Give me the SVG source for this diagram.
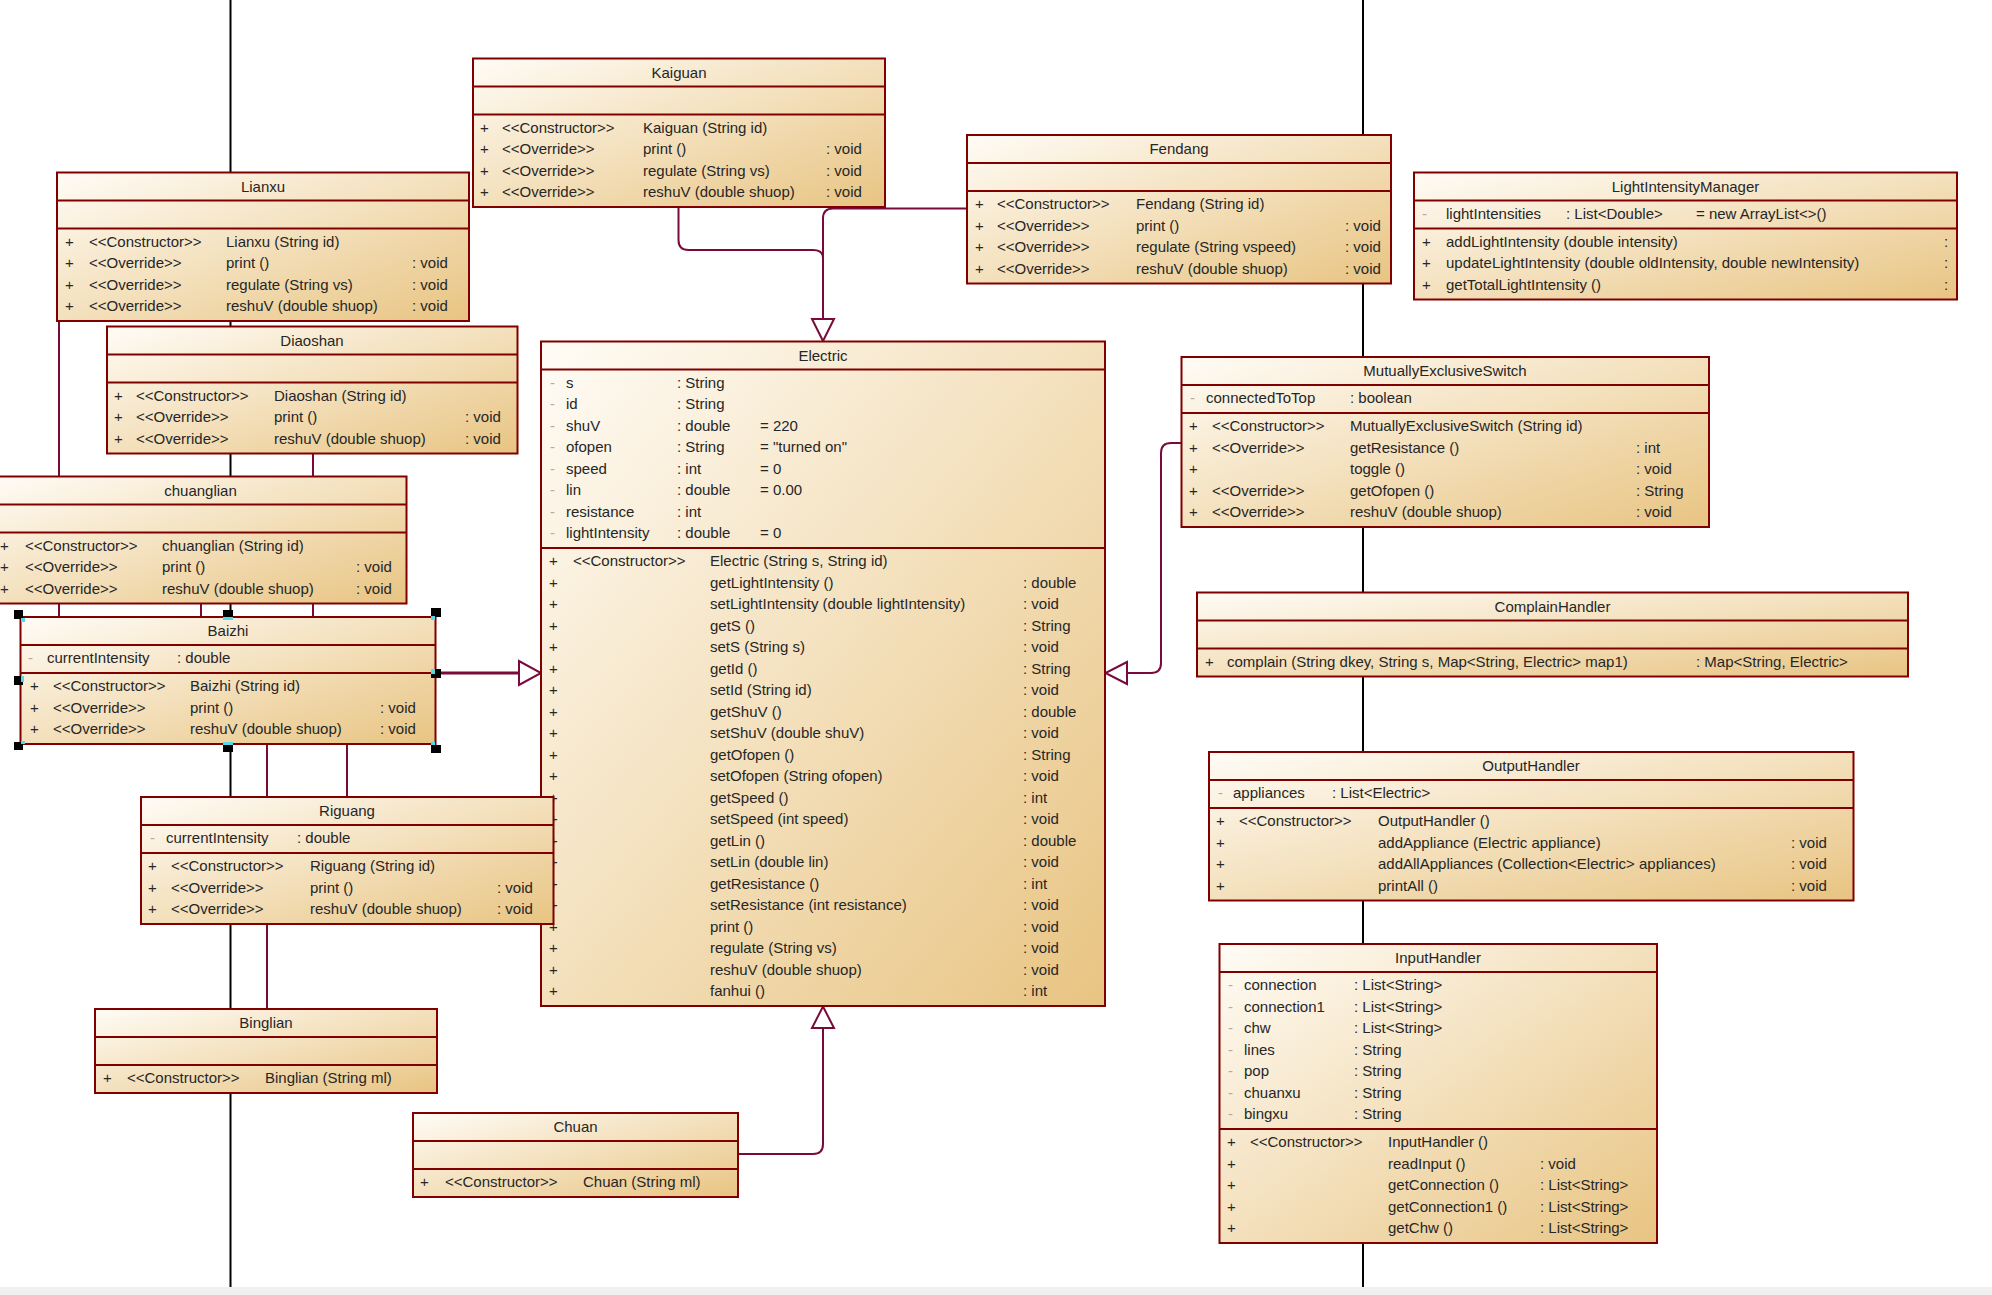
<svg xmlns="http://www.w3.org/2000/svg" width="1992" height="1295" viewBox="0 0 1992 1295">
<style>
text{font-family:"Liberation Sans",Arial,sans-serif;font-size:15px;fill:#262626}
.t{text-anchor:middle}
.m{fill:#bba6a6}
.box{fill:url(#g);stroke:#800000;stroke-width:2}
.sep{stroke:#800000;stroke-width:2}
.ll{stroke:#000;stroke-width:2;fill:none}
.cn{stroke:#7b0a3c;stroke-width:2;fill:none}
.ah{fill:#fff;stroke:#7b0a3c;stroke-width:2}
.hb{fill:#000}
.hc{fill:#55d8e8}
</style>
<defs>
<linearGradient id="g" x1="0" y1="0" x2="1" y2="1">
<stop offset="0" stop-color="#fffcf6"/>
<stop offset="1" stop-color="#e8c482"/>
</linearGradient>
</defs>
<rect x="0" y="0" width="1992" height="1295" fill="#fff"/>
<rect x="0" y="1287" width="1992" height="8" fill="#f0f0f0"/>

<g id="connectors">
<line class="ll" x1="230.5" y1="0" x2="230.5" y2="1287"/>
<line class="ll" x1="1363" y1="0" x2="1363" y2="1287"/>
<line class="cn" x1="59" y1="321" x2="59" y2="617"/>
<line class="cn" x1="313" y1="453" x2="313" y2="617"/>
<line class="cn" x1="201" y1="603" x2="201" y2="617"/>
<line class="cn" x1="267" y1="744" x2="267" y2="1009"/>
<line class="cn" x1="347" y1="744" x2="347" y2="797"/>
<line class="cn" style="stroke-width:3" x1="436" y1="673" x2="519" y2="673"/>
<polygon class="ah" points="519,661 519,685 541,673"/>
<path class="cn" d="M678.5 207 V240 Q678.5 250 688.5 250 H813 Q823 250 823 258"/>
<path class="cn" d="M967 208.5 H833 Q823 208.5 823 218.5 V319"/>
<polygon class="ah" points="812,319 834,319 823,341"/>
<path class="cn" d="M738 1154 H813 Q823 1154 823 1144 V1028"/>
<polygon class="ah" points="812,1028 834,1028 823,1006.5"/>
<path class="cn" d="M1181 443 H1171 Q1161 443 1161 453 V663 Q1161 673 1151 673 H1127"/>
<polygon class="ah" points="1127,662 1127,684 1105.5,673"/>
</g>

<g id="Kaiguan">
<rect class="box" x="473" y="58.5" width="412" height="148.5"/>
<line class="sep" x1="473" y1="86.5" x2="885" y2="86.5"/>
<line class="sep" x1="473" y1="114.5" x2="885" y2="114.5"/>
<text class="t" x="679" y="77.5">Kaiguan</text>
<text x="480" y="132.5">+</text><text x="502" y="132.5">&lt;&lt;Constructor&gt;&gt;</text><text x="643" y="132.5">Kaiguan (String id)</text>
<text x="480" y="154">+</text><text x="502" y="154">&lt;&lt;Override&gt;&gt;</text><text x="643" y="154">print ()</text><text x="826" y="154">: void</text>
<text x="480" y="175.5">+</text><text x="502" y="175.5">&lt;&lt;Override&gt;&gt;</text><text x="643" y="175.5">regulate (String vs)</text><text x="826" y="175.5">: void</text>
<text x="480" y="197">+</text><text x="502" y="197">&lt;&lt;Override&gt;&gt;</text><text x="643" y="197">reshuV (double shuop)</text><text x="826" y="197">: void</text>
</g>

<g id="Lianxu">
<rect class="box" x="57" y="172.5" width="412" height="148.5"/>
<line class="sep" x1="57" y1="200.5" x2="469" y2="200.5"/>
<line class="sep" x1="57" y1="228.5" x2="469" y2="228.5"/>
<text class="t" x="263" y="191.5">Lianxu</text>
<text x="65" y="246.5">+</text><text x="89" y="246.5">&lt;&lt;Constructor&gt;&gt;</text><text x="226" y="246.5">Lianxu (String id)</text>
<text x="65" y="268">+</text><text x="89" y="268">&lt;&lt;Override&gt;&gt;</text><text x="226" y="268">print ()</text><text x="412" y="268">: void</text>
<text x="65" y="289.5">+</text><text x="89" y="289.5">&lt;&lt;Override&gt;&gt;</text><text x="226" y="289.5">regulate (String vs)</text><text x="412" y="289.5">: void</text>
<text x="65" y="311">+</text><text x="89" y="311">&lt;&lt;Override&gt;&gt;</text><text x="226" y="311">reshuV (double shuop)</text><text x="412" y="311">: void</text>
</g>

<g id="Fendang">
<rect class="box" x="967" y="135" width="424" height="148.5"/>
<line class="sep" x1="967" y1="163" x2="1391" y2="163"/>
<line class="sep" x1="967" y1="191" x2="1391" y2="191"/>
<text class="t" x="1179" y="154">Fendang</text>
<text x="975" y="209">+</text><text x="997" y="209">&lt;&lt;Constructor&gt;&gt;</text><text x="1136" y="209">Fendang (String id)</text>
<text x="975" y="230.5">+</text><text x="997" y="230.5">&lt;&lt;Override&gt;&gt;</text><text x="1136" y="230.5">print ()</text><text x="1345" y="230.5">: void</text>
<text x="975" y="252">+</text><text x="997" y="252">&lt;&lt;Override&gt;&gt;</text><text x="1136" y="252">regulate (String vspeed)</text><text x="1345" y="252">: void</text>
<text x="975" y="273.5">+</text><text x="997" y="273.5">&lt;&lt;Override&gt;&gt;</text><text x="1136" y="273.5">reshuV (double shuop)</text><text x="1345" y="273.5">: void</text>
</g>

<g id="LightIntensityManager">
<rect class="box" x="1414" y="172.5" width="543" height="127"/>
<line class="sep" x1="1414" y1="200.5" x2="1957" y2="200.5"/>
<line class="sep" x1="1414" y1="228.5" x2="1957" y2="228.5"/>
<text class="t" x="1685.5" y="191.5">LightIntensityManager</text>
<text class="m" x="1422" y="218.5">-</text><text x="1446" y="218.5">lightIntensities</text><text x="1566" y="218.5">: List&lt;Double&gt;</text><text x="1696" y="218.5">= new ArrayList&lt;&gt;()</text>
<text x="1422" y="246.5">+</text><text x="1446" y="246.5">addLightIntensity (double intensity)</text><text x="1944" y="246.5">:</text>
<text x="1422" y="268">+</text><text x="1446" y="268">updateLightIntensity (double oldIntensity, double newIntensity)</text><text x="1944" y="268">:</text>
<text x="1422" y="289.5">+</text><text x="1446" y="289.5">getTotalLightIntensity ()</text><text x="1944" y="289.5">:</text>
</g>

<g id="Diaoshan">
<rect class="box" x="107" y="326.5" width="410.5" height="127"/>
<line class="sep" x1="107" y1="354.5" x2="517.5" y2="354.5"/>
<line class="sep" x1="107" y1="382.5" x2="517.5" y2="382.5"/>
<text class="t" x="312" y="345.5">Diaoshan</text>
<text x="114" y="400.5">+</text><text x="136" y="400.5">&lt;&lt;Constructor&gt;&gt;</text><text x="274" y="400.5">Diaoshan (String id)</text>
<text x="114" y="422">+</text><text x="136" y="422">&lt;&lt;Override&gt;&gt;</text><text x="274" y="422">print ()</text><text x="465" y="422">: void</text>
<text x="114" y="443.5">+</text><text x="136" y="443.5">&lt;&lt;Override&gt;&gt;</text><text x="274" y="443.5">reshuV (double shuop)</text><text x="465" y="443.5">: void</text>
</g>

<g id="chuanglian">
<rect class="box" x="-5" y="476.5" width="411.5" height="127"/>
<line class="sep" x1="-5" y1="504.5" x2="406.5" y2="504.5"/>
<line class="sep" x1="-5" y1="532.5" x2="406.5" y2="532.5"/>
<text class="t" x="200.5" y="495.5">chuanglian</text>
<text x="0" y="550.5">+</text><text x="25" y="550.5">&lt;&lt;Constructor&gt;&gt;</text><text x="162" y="550.5">chuanglian (String id)</text>
<text x="0" y="572">+</text><text x="25" y="572">&lt;&lt;Override&gt;&gt;</text><text x="162" y="572">print ()</text><text x="356" y="572">: void</text>
<text x="0" y="593.5">+</text><text x="25" y="593.5">&lt;&lt;Override&gt;&gt;</text><text x="162" y="593.5">reshuV (double shuop)</text><text x="356" y="593.5">: void</text>
</g>

<g id="Baizhi">
<rect class="box" x="20.5" y="617" width="415" height="127"/>
<line class="sep" x1="20.5" y1="645" x2="435.5" y2="645"/>
<line class="sep" x1="20.5" y1="673" x2="435.5" y2="673"/>
<text class="t" x="228" y="636">Baizhi</text>
<text class="m" x="28" y="663">-</text><text x="47" y="663">currentIntensity</text><text x="177" y="663">: double</text>
<text x="30" y="691">+</text><text x="53" y="691">&lt;&lt;Constructor&gt;&gt;</text><text x="190" y="691">Baizhi (String id)</text>
<text x="30" y="712.5">+</text><text x="53" y="712.5">&lt;&lt;Override&gt;&gt;</text><text x="190" y="712.5">print ()</text><text x="380" y="712.5">: void</text>
<text x="30" y="734">+</text><text x="53" y="734">&lt;&lt;Override&gt;&gt;</text><text x="190" y="734">reshuV (double shuop)</text><text x="380" y="734">: void</text>
<rect class="hb" x="14" y="610" width="9" height="9"/><rect class="hc" x="21" y="618" width="4" height="4"/>
<rect class="hb" x="223" y="610" width="10" height="7"/><rect class="hc" x="223" y="617" width="10" height="3"/>
<rect class="hb" x="431" y="608" width="10" height="9"/><rect class="hc" x="431" y="616" width="4" height="4"/>
<rect class="hb" x="14" y="676" width="9" height="9"/><rect class="hc" x="21" y="676" width="3" height="6"/>
<rect class="hb" x="431" y="669" width="10" height="9"/><rect class="hc" x="431" y="669" width="4" height="5"/>
<rect class="hb" x="14" y="742" width="9" height="8"/><rect class="hc" x="21" y="741" width="4" height="3"/>
<rect class="hb" x="223" y="745" width="10" height="7"/><rect class="hc" x="223" y="742" width="10" height="3"/>
<rect class="hb" x="431" y="745" width="10" height="8"/><rect class="hc" x="431" y="742" width="4" height="3"/>
</g>

<g id="Electric">
<rect class="box" x="541" y="341.5" width="564" height="664.5"/>
<line class="sep" x1="541" y1="369.5" x2="1105" y2="369.5"/>
<line class="sep" x1="541" y1="548" x2="1105" y2="548"/>
<text class="t" x="823" y="360.5">Electric</text>
<text class="m" x="550" y="387.5">-</text><text x="566" y="387.5">s</text><text x="677" y="387.5">: String</text>
<text class="m" x="550" y="409">-</text><text x="566" y="409">id</text><text x="677" y="409">: String</text>
<text class="m" x="550" y="430.5">-</text><text x="566" y="430.5">shuV</text><text x="677" y="430.5">: double</text><text x="760" y="430.5">= 220</text>
<text class="m" x="550" y="452">-</text><text x="566" y="452">ofopen</text><text x="677" y="452">: String</text><text x="760" y="452">= "turned on"</text>
<text class="m" x="550" y="473.5">-</text><text x="566" y="473.5">speed</text><text x="677" y="473.5">: int</text><text x="760" y="473.5">= 0</text>
<text class="m" x="550" y="495">-</text><text x="566" y="495">lin</text><text x="677" y="495">: double</text><text x="760" y="495">= 0.00</text>
<text class="m" x="550" y="516.5">-</text><text x="566" y="516.5">resistance</text><text x="677" y="516.5">: int</text>
<text class="m" x="550" y="538">-</text><text x="566" y="538">lightIntensity</text><text x="677" y="538">: double</text><text x="760" y="538">= 0</text>
<text x="549" y="566">+</text><text x="573" y="566">&lt;&lt;Constructor&gt;&gt;</text><text x="710" y="566">Electric (String s, String id)</text>
<text x="549" y="587.5">+</text><text x="710" y="587.5">getLightIntensity ()</text><text x="1023" y="587.5">: double</text>
<text x="549" y="609">+</text><text x="710" y="609">setLightIntensity (double lightIntensity)</text><text x="1023" y="609">: void</text>
<text x="549" y="630.5">+</text><text x="710" y="630.5">getS ()</text><text x="1023" y="630.5">: String</text>
<text x="549" y="652">+</text><text x="710" y="652">setS (String s)</text><text x="1023" y="652">: void</text>
<text x="549" y="673.5">+</text><text x="710" y="673.5">getId ()</text><text x="1023" y="673.5">: String</text>
<text x="549" y="695">+</text><text x="710" y="695">setId (String id)</text><text x="1023" y="695">: void</text>
<text x="549" y="716.5">+</text><text x="710" y="716.5">getShuV ()</text><text x="1023" y="716.5">: double</text>
<text x="549" y="738">+</text><text x="710" y="738">setShuV (double shuV)</text><text x="1023" y="738">: void</text>
<text x="549" y="759.5">+</text><text x="710" y="759.5">getOfopen ()</text><text x="1023" y="759.5">: String</text>
<text x="549" y="781">+</text><text x="710" y="781">setOfopen (String ofopen)</text><text x="1023" y="781">: void</text>
<text x="549" y="802.5">+</text><text x="710" y="802.5">getSpeed ()</text><text x="1023" y="802.5">: int</text>
<text x="549" y="824">+</text><text x="710" y="824">setSpeed (int speed)</text><text x="1023" y="824">: void</text>
<text x="549" y="845.5">+</text><text x="710" y="845.5">getLin ()</text><text x="1023" y="845.5">: double</text>
<text x="549" y="867">+</text><text x="710" y="867">setLin (double lin)</text><text x="1023" y="867">: void</text>
<text x="549" y="888.5">+</text><text x="710" y="888.5">getResistance ()</text><text x="1023" y="888.5">: int</text>
<text x="549" y="910">+</text><text x="710" y="910">setResistance (int resistance)</text><text x="1023" y="910">: void</text>
<text x="549" y="931.5">+</text><text x="710" y="931.5">print ()</text><text x="1023" y="931.5">: void</text>
<text x="549" y="953">+</text><text x="710" y="953">regulate (String vs)</text><text x="1023" y="953">: void</text>
<text x="549" y="974.5">+</text><text x="710" y="974.5">reshuV (double shuop)</text><text x="1023" y="974.5">: void</text>
<text x="549" y="996">+</text><text x="710" y="996">fanhui ()</text><text x="1023" y="996">: int</text>
</g>

<g id="MutuallyExclusiveSwitch">
<rect class="box" x="1181.5" y="357" width="527.5" height="170"/>
<line class="sep" x1="1181.5" y1="385" x2="1709" y2="385"/>
<line class="sep" x1="1181.5" y1="413" x2="1709" y2="413"/>
<text class="t" x="1445" y="376">MutuallyExclusiveSwitch</text>
<text class="m" x="1190" y="403">-</text><text x="1206" y="403">connectedToTop</text><text x="1350" y="403">: boolean</text>
<text x="1189" y="431">+</text><text x="1212" y="431">&lt;&lt;Constructor&gt;&gt;</text><text x="1350" y="431">MutuallyExclusiveSwitch (String id)</text>
<text x="1189" y="452.5">+</text><text x="1212" y="452.5">&lt;&lt;Override&gt;&gt;</text><text x="1350" y="452.5">getResistance ()</text><text x="1636" y="452.5">: int</text>
<text x="1189" y="474">+</text><text x="1350" y="474">toggle ()</text><text x="1636" y="474">: void</text>
<text x="1189" y="495.5">+</text><text x="1212" y="495.5">&lt;&lt;Override&gt;&gt;</text><text x="1350" y="495.5">getOfopen ()</text><text x="1636" y="495.5">: String</text>
<text x="1189" y="517">+</text><text x="1212" y="517">&lt;&lt;Override&gt;&gt;</text><text x="1350" y="517">reshuV (double shuop)</text><text x="1636" y="517">: void</text>
</g>

<g id="ComplainHandler">
<rect class="box" x="1197" y="592.5" width="711" height="84"/>
<line class="sep" x1="1197" y1="620.5" x2="1908" y2="620.5"/>
<line class="sep" x1="1197" y1="648.5" x2="1908" y2="648.5"/>
<text class="t" x="1552.5" y="611.5">ComplainHandler</text>
<text x="1205" y="666.5">+</text><text x="1227" y="666.5">complain (String dkey, String s, Map&lt;String, Electric&gt; map1)</text><text x="1696" y="666.5">: Map&lt;String, Electric&gt;</text>
</g>

<g id="OutputHandler">
<rect class="box" x="1209" y="752" width="644.5" height="148.5"/>
<line class="sep" x1="1209" y1="780" x2="1853.5" y2="780"/>
<line class="sep" x1="1209" y1="808" x2="1853.5" y2="808"/>
<text class="t" x="1531" y="771">OutputHandler</text>
<text class="m" x="1218" y="798">-</text><text x="1233" y="798">appliances</text><text x="1332" y="798">: List&lt;Electric&gt;</text>
<text x="1216" y="826">+</text><text x="1239" y="826">&lt;&lt;Constructor&gt;&gt;</text><text x="1378" y="826">OutputHandler ()</text>
<text x="1216" y="847.5">+</text><text x="1378" y="847.5">addAppliance (Electric appliance)</text><text x="1791" y="847.5">: void</text>
<text x="1216" y="869">+</text><text x="1378" y="869">addAllAppliances (Collection&lt;Electric&gt; appliances)</text><text x="1791" y="869">: void</text>
<text x="1216" y="890.5">+</text><text x="1378" y="890.5">printAll ()</text><text x="1791" y="890.5">: void</text>
</g>

<g id="InputHandler">
<rect class="box" x="1219.5" y="944" width="437.5" height="299"/>
<line class="sep" x1="1219.5" y1="972" x2="1657" y2="972"/>
<line class="sep" x1="1219.5" y1="1129" x2="1657" y2="1129"/>
<text class="t" x="1438" y="963">InputHandler</text>
<text class="m" x="1228" y="990">-</text><text x="1244" y="990">connection</text><text x="1354" y="990">: List&lt;String&gt;</text>
<text class="m" x="1228" y="1011.5">-</text><text x="1244" y="1011.5">connection1</text><text x="1354" y="1011.5">: List&lt;String&gt;</text>
<text class="m" x="1228" y="1033">-</text><text x="1244" y="1033">chw</text><text x="1354" y="1033">: List&lt;String&gt;</text>
<text class="m" x="1228" y="1054.5">-</text><text x="1244" y="1054.5">lines</text><text x="1354" y="1054.5">: String</text>
<text class="m" x="1228" y="1076">-</text><text x="1244" y="1076">pop</text><text x="1354" y="1076">: String</text>
<text class="m" x="1228" y="1097.5">-</text><text x="1244" y="1097.5">chuanxu</text><text x="1354" y="1097.5">: String</text>
<text class="m" x="1228" y="1119">-</text><text x="1244" y="1119">bingxu</text><text x="1354" y="1119">: String</text>
<text x="1227" y="1147">+</text><text x="1250" y="1147">&lt;&lt;Constructor&gt;&gt;</text><text x="1388" y="1147">InputHandler ()</text>
<text x="1227" y="1168.5">+</text><text x="1388" y="1168.5">readInput ()</text><text x="1540" y="1168.5">: void</text>
<text x="1227" y="1190">+</text><text x="1388" y="1190">getConnection ()</text><text x="1540" y="1190">: List&lt;String&gt;</text>
<text x="1227" y="1211.5">+</text><text x="1388" y="1211.5">getConnection1 ()</text><text x="1540" y="1211.5">: List&lt;String&gt;</text>
<text x="1227" y="1233">+</text><text x="1388" y="1233">getChw ()</text><text x="1540" y="1233">: List&lt;String&gt;</text>
</g>

<g id="Riguang">
<rect class="box" x="141" y="797" width="412.5" height="127"/>
<line class="sep" x1="141" y1="825" x2="553.5" y2="825"/>
<line class="sep" x1="141" y1="853" x2="553.5" y2="853"/>
<text class="t" x="347" y="816">Riguang</text>
<text class="m" x="150" y="843">-</text><text x="166" y="843">currentIntensity</text><text x="297" y="843">: double</text>
<text x="148" y="871">+</text><text x="171" y="871">&lt;&lt;Constructor&gt;&gt;</text><text x="310" y="871">Riguang (String id)</text>
<text x="148" y="892.5">+</text><text x="171" y="892.5">&lt;&lt;Override&gt;&gt;</text><text x="310" y="892.5">print ()</text><text x="497" y="892.5">: void</text>
<text x="148" y="914">+</text><text x="171" y="914">&lt;&lt;Override&gt;&gt;</text><text x="310" y="914">reshuV (double shuop)</text><text x="497" y="914">: void</text>
</g>

<g id="Binglian">
<rect class="box" x="95" y="1009" width="342" height="84"/>
<line class="sep" x1="95" y1="1037" x2="437" y2="1037"/>
<line class="sep" x1="95" y1="1065" x2="437" y2="1065"/>
<text class="t" x="266" y="1028">Binglian</text>
<text x="103" y="1083">+</text><text x="127" y="1083">&lt;&lt;Constructor&gt;&gt;</text><text x="265" y="1083">Binglian (String ml)</text>
</g>

<g id="Chuan">
<rect class="box" x="413" y="1113" width="325" height="84"/>
<line class="sep" x1="413" y1="1141" x2="738" y2="1141"/>
<line class="sep" x1="413" y1="1169" x2="738" y2="1169"/>
<text class="t" x="575.5" y="1132">Chuan</text>
<text x="420" y="1187">+</text><text x="445" y="1187">&lt;&lt;Constructor&gt;&gt;</text><text x="583" y="1187">Chuan (String ml)</text>
</g>
</svg>
